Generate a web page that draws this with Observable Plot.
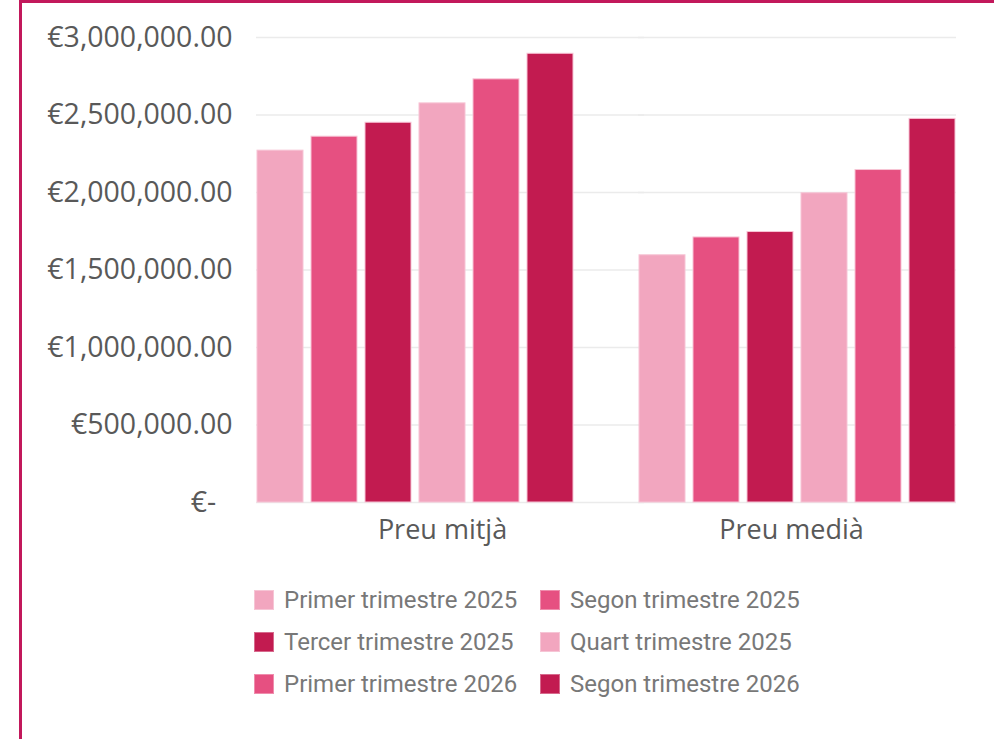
<!DOCTYPE html>
<html>
<head>
<meta charset="utf-8">
<script src="https://cdn.jsdelivr.net/npm/d3@7"></script>
<script src="https://cdn.jsdelivr.net/npm/@observablehq/plot@0.6"></script>
<style>
  html, body { margin: 0; padding: 0; background: #fff; overflow: hidden; }
  body { width: 994px; height: 739px; position: relative; }
  #chart { position: absolute; left: 0; top: 0; }
  #frame { position: absolute; left: 19px; top: 0px; width: 2000px; height: 2000px;
           border-left: 3px solid #c2185b; border-top: 3px solid #c2185b; z-index: 5; pointer-events: none; }
  #legend { position: absolute; left: 254px; top: 588px; display: grid;
            grid-template-columns: 286px 286px; row-gap: 19px;
            font-family: Roboto, sans-serif; font-size: 24px; color: #787878; }
  .item { display: flex; align-items: center; height: 23px; white-space: nowrap; }
  .sw { width: 20px; height: 20px; margin-right: 10px; box-sizing: border-box; border: 1px solid rgba(255,255,255,0.35); flex: none; }
</style>
</head>
<body>
<div id="chart"></div>
<div id="legend"></div>
<div id="frame"></div>
<script>
const categories = ["Preu mitjà", "Preu medià"];
const series = [
  "Primer trimestre 2025",
  "Segon trimestre 2025",
  "Tercer trimestre 2025",
  "Quart trimestre 2025",
  "Primer trimestre 2026",
  "Segon trimestre 2026"
];
const mitjaValues = [2270000, 2360000, 2450000, 2575000, 2730000, 2895000];
const mediaValues = [1595000, 1710000, 1745000, 1995000, 2145000, 2475000];
const seriesColors = ["#f2a6bf", "#e65081", "#c21b50", "#f2a6bf", "#e65081", "#c21b50"];
const yTicks = [0, 500000, 1000000, 1500000, 2000000, 2500000, 3000000];

const data = [];
series.forEach((s, i) => data.push({cat: categories[0], series: s, value: mitjaValues[i]}));
series.forEach((s, i) => data.push({cat: categories[1], series: s, value: mediaValues[i]}));

const gridA = yTicks.map(v => ({cat: categories[0], v}));
const gridB = yTicks.map(v => ({cat: categories[1], v}));

const fmt = d3.format(",.2f");
const tickFormat = v => v === 0 ? "€-\u2007" : "€" + fmt(v);

const chart = Plot.plot({
  width: 994,
  height: 560,
  marginLeft: 255,
  marginRight: 37,
  marginTop: 37,
  marginBottom: 58,
  style: {fontFamily: "'Open Sans', sans-serif", background: "transparent"},
  fx: {domain: categories, paddingInner: 0.167, paddingOuter: 0, axis: null},
  x: {domain: series, paddingInner: 0.157, paddingOuter: 0, axis: null},
  y: {domain: [0, 3000000]},
  color: {domain: series, range: seriesColors},
  marks: [
    Plot.ruleY(gridA, {fx: "cat", y: "v", stroke: "#ebebeb", strokeWidth: 1.5, insetRight: -70}),
    Plot.ruleY(gridB, {fx: "cat", y: "v", stroke: "#ebebeb", strokeWidth: 1.5}),
    Plot.barY(data, {fx: "cat", x: "series", y: "value", fill: "series", stroke: "#f7c4d5", strokeWidth: 1}),
    Plot.axisY({ticks: yTicks, tickFormat, tickSize: 0, tickPadding: 24, fontSize: 28.5, fill: "#595959", label: null}),
    Plot.text([categories[0]], {fx: d => d, text: d => d, frameAnchor: "bottom", dy: 36, dx: 27, fontSize: 27, fill: "#595959"}),
    Plot.text([categories[1]], {fx: d => d, text: d => d, frameAnchor: "bottom", dy: 36, dx: -6, fontSize: 27, fill: "#595959"})
  ]
});
document.getElementById("chart").appendChild(chart);

const legend = document.getElementById("legend");
series.forEach((s, i) => {
  const item = document.createElement("div");
  item.className = "item";
  const sw = document.createElement("span");
  sw.className = "sw";
  sw.style.background = seriesColors[i];
  const label = document.createElement("span");
  label.textContent = s;
  item.appendChild(sw);
  item.appendChild(label);
  legend.appendChild(item);
});
</script>
</body>
</html>
